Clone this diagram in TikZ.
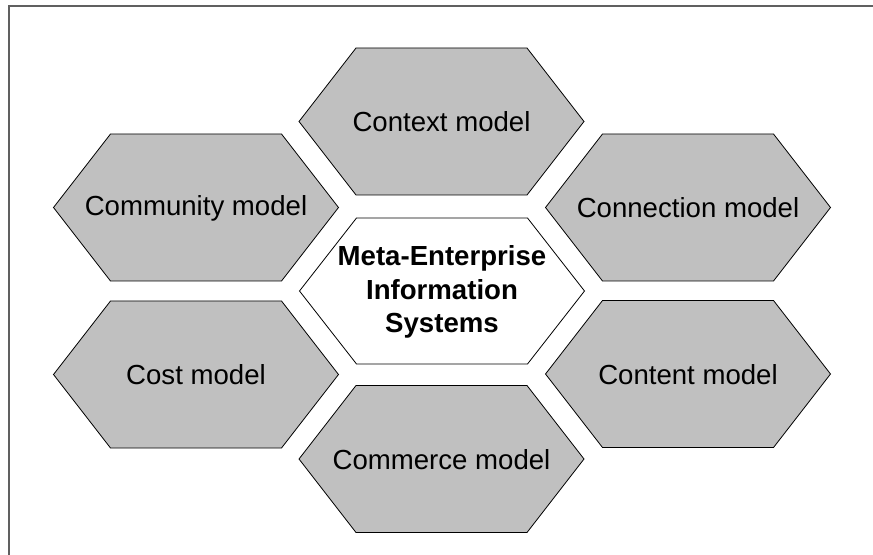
\documentclass[tikz,border=0pt]{standalone}
\usepackage{fontspec}
\setmainfont{Liberation Sans}
\usepackage{tikz}
\usepackage{xcolor}

\definecolor{cellgray}{RGB}{192,192,192}
\definecolor{framegray}{RGB}{96,96,96}

\begin{document}
\begin{tikzpicture}[x=0.75pt,y=-0.75pt,
  hexcell/.style={draw=black,line width=0.6pt,line join=miter},
  celltext/.style={font=\fontsize{20.7}{24.8}\selectfont,align=center},
  metatext/.style={font=\fontsize{20.7}{25.1}\selectfont\bfseries,align=center}]
  \useasboundingbox (0,0) rectangle (873,555);
  \draw[framegray,line width=1.5pt] (9,556) -- (9,6) -- (874,6);

% the six gray cells
\foreach \x/\y in {441.5/121.5, 196/207.5, 688/207.5, 196/374.5, 688/374, 441.5/459}
  \draw[hexcell,fill=cellgray] (\x,\y) ++(-142.5,0) -- ++(57,-73.5) -- ++(171,0)
    -- ++(57,73.5) -- ++(-57,73.5) -- ++(-171,0) -- cycle;

% the white cell in the middle
\draw[hexcell,fill=white] (442,291) ++(-142.5,0) -- ++(57,-73) -- ++(171,0)
  -- ++(57,73) -- ++(-57,73) -- ++(-171,0) -- cycle;

\node[celltext] (context) at (441.5,122) {Context model};
\node[celltext] (community) at (196,208) {Community model};
\node[celltext] (connection) at (688,208) {Connection model};
\node[celltext] (cost) at (196,375) {Cost model};
\node[celltext] (content) at (688,374.5) {Content model};
\node[celltext] (commerce) at (441.5,459.5) {Commerce model};
\node[metatext] (meta) at (442,292) {Meta-Enterprise\\Information\\Systems};
\end{tikzpicture}
\end{document}
